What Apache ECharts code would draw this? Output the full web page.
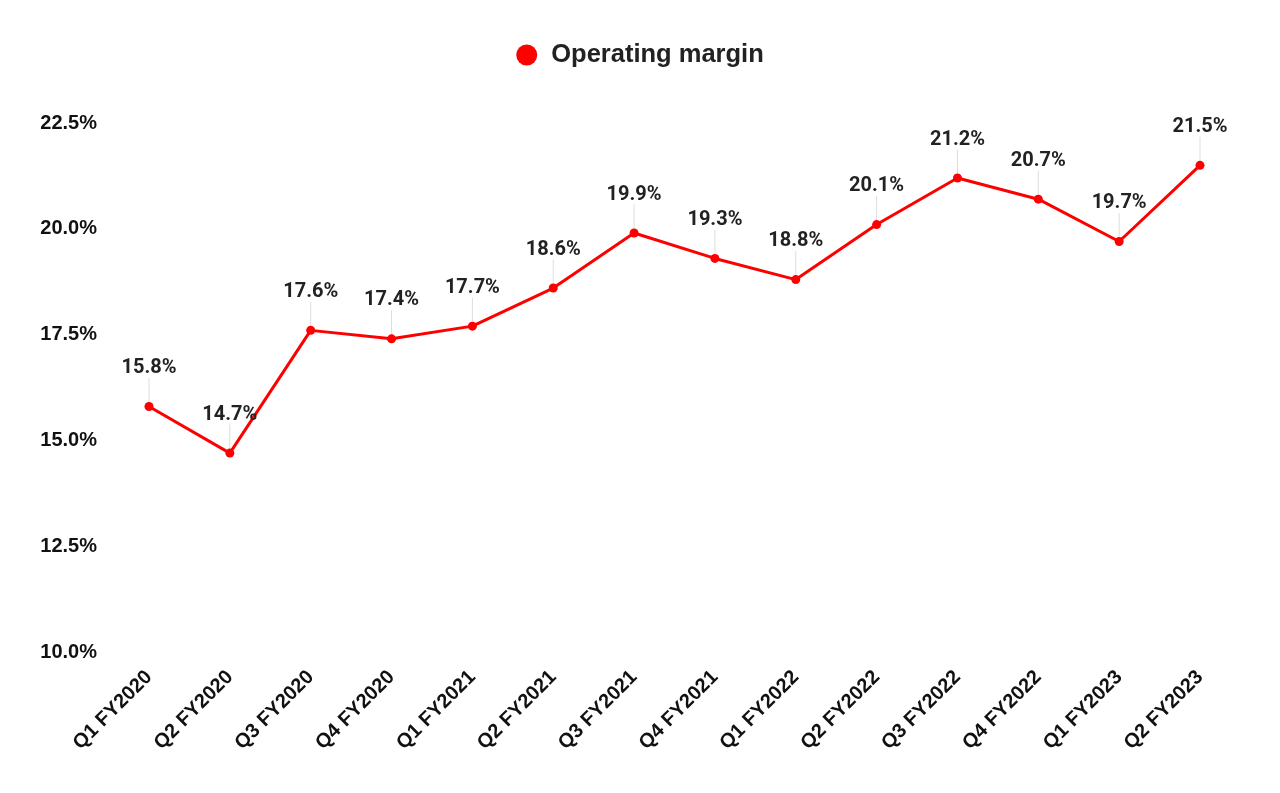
<!DOCTYPE html>
<html>
<head>
<meta charset="utf-8">
<script src="https://cdn.jsdelivr.net/npm/echarts@6/dist/echarts.min.js"></script>
<style>
  html, body { margin: 0; padding: 0; background: #fff; }
  #chart { width: 1280px; height: 793px; }
</style>
</head>
<body>
<div id="chart"></div>
<script>
const quarters = ['Q1 FY2020', 'Q2 FY2020', 'Q3 FY2020', 'Q4 FY2020', 'Q1 FY2021', 'Q2 FY2021', 'Q3 FY2021',
  'Q4 FY2021', 'Q1 FY2022', 'Q2 FY2022', 'Q3 FY2022', 'Q4 FY2022', 'Q1 FY2023', 'Q2 FY2023'];
const operatingMargin = [15.8, 14.7, 17.6, 17.4, 17.7, 18.6, 19.9, 19.3, 18.8, 20.1, 21.2, 20.7, 19.7, 21.5];

const chart = echarts.init(document.getElementById('chart'));

chart.setOption({
  animation: false,
  legend: {
    top: 37,
    left: 'center',
    icon: 'circle',
    itemWidth: 21,
    itemHeight: 21,
    itemGap: 10,
    textStyle: {
      fontFamily: 'Liberation Sans', fontWeight: 'bold', fontSize: 25.5, color: '#222',
      padding: [0, 0, 0, 9]
    }
  },
  grid: { left: 149, right: 80, top: 123, bottom: 141 },
  xAxis: {
    type: 'category',
    data: quarters,
    boundaryGap: false,
    axisLine: { show: false },
    axisTick: { show: false },
    axisLabel: {
      rotate: 45,
      margin: 22,
      interval: 0,
      fontFamily: 'Liberation Sans',
      fontWeight: 'bold',
      fontSize: 20,
      color: '#111'
    }
  },
  yAxis: {
    type: 'value',
    min: 10,
    max: 22.5,
    interval: 2.5,
    axisLine: { show: false },
    axisTick: { show: false },
    splitLine: { show: false },
    axisLabel: {
      margin: 52,
      fontFamily: 'Liberation Sans',
      fontWeight: 'bold',
      fontSize: 20,
      color: '#111',
      formatter: v => v.toFixed(1) + '%'
    }
  },
  series: [{
    name: 'Operating margin',
    type: 'line',
    data: operatingMargin,
    symbol: 'circle',
    symbolSize: 9,
    itemStyle: { color: '#ff0000' },
    lineStyle: { color: '#ff0000', width: 3 },
    label: {
      show: true,
      position: 'top',
      distance: 4,
      fontFamily: 'Roboto',
      fontWeight: 'bold',
      fontSize: 20,
      color: '#222',
      formatter: p => p.value.toFixed(1) + '%'
    },
    labelLayout: { dy: -20 },
    labelLine: {
      show: true,
      lineStyle: { color: '#dddddd', width: 1 }
    }
  }]
});
</script>
</body>
</html>
